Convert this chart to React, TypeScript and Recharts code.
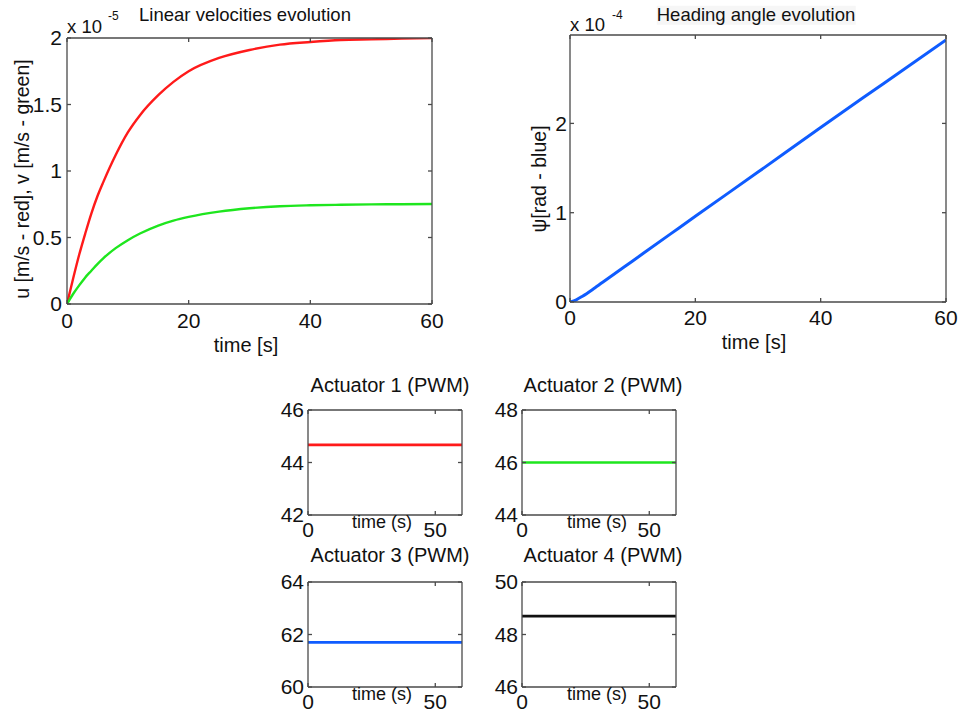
import React from 'react';
import { LineChart, Line, XAxis, YAxis } from 'recharts';

// ---- data ----
const timeUV = [0, 1, 2, 3, 4, 5, 6, 8, 10, 12, 15, 17.5, 20, 25, 30, 35, 40, 45, 50, 55, 60];
const uRed = [0, 0.19, 0.37, 0.53, 0.68, 0.81, 0.92, 1.12, 1.29, 1.42, 1.57, 1.67, 1.75, 1.85, 1.91, 1.95, 1.97, 1.985, 1.99, 1.995, 2.0];
const vGreen = [0, 0.075, 0.14, 0.2, 0.25, 0.3, 0.345, 0.42, 0.48, 0.53, 0.59, 0.627, 0.655, 0.695, 0.72, 0.735, 0.742, 0.746, 0.749, 0.75, 0.752];
const uvTicksY = [0, 0.5, 1, 1.5, 2];
const timeTicks = [0, 20, 40, 60];

const timePsi = [0, 1, 2, 4, 6, 10, 16, 20, 30, 40, 50, 60];
const psiBlue = [0, 0.025, 0.065, 0.16, 0.26, 0.46, 0.76, 0.96, 1.455, 1.955, 2.445, 2.935];
const psiTicksY = [0, 1, 2];

const actTime = [0, 60.5];
const act1 = [44.67, 44.67];
const act2 = [46.0, 46.0];
const act3 = [61.7, 61.7];
const act4 = [48.7, 48.7];
const actTicksX = [0, 50];
const act1Ticks = [42, 44, 46];
const act2Ticks = [44, 46, 48];
const act3Ticks = [60, 62, 64];
const act4Ticks = [46, 48, 50];

const FONT = '"Liberation Sans", Arial, Helvetica, sans-serif';
const BOX = '#4a4a4a';

type SeriesDef = { key: string; color: string; width: number; curve: 'monotone' | 'linear' };

type PanelProps = {
  left: number;
  top: number;
  width: number;
  height: number;
  yAxisWidth: number;
  marginTop: number;
  marginRight: number;
  data: any[];
  series: SeriesDef[];
  xDomain: [number, number];
  yDomain: [number, number];
  xTicks: number[];
  yTicks: number[];
  fontSize: number;
  xTickMargin: number;
  yTickMargin: number;
};

function Panel(p: PanelProps) {
  const tickStyle = { fill: '#111', fontSize: p.fontSize, fontFamily: FONT };
  return (
    <div style={{ position: 'absolute', left: p.left, top: p.top }}>
      <LineChart
        width={p.width}
        height={p.height}
        data={p.data}
        margin={{ top: p.marginTop - 1, right: p.marginRight - 1, bottom: 0, left: 0 }}
      >
        <XAxis
          dataKey="t"
          type="number"
          domain={p.xDomain}
          ticks={p.xTicks}
          interval={0}
          allowDataOverflow
          height={30}
          tickSize={-4}
          tickMargin={p.xTickMargin}
          stroke={BOX}
          strokeWidth={1.3}
          tick={tickStyle}
        />
        <XAxis
          xAxisId="top"
          dataKey="t"
          type="number"
          orientation="top"
          domain={p.xDomain}
          ticks={p.xTicks}
          interval={0}
          allowDataOverflow
          height={1}
          tickSize={-4}
          tickFormatter={() => ''}
          stroke={BOX}
          strokeWidth={1.3}
        />
        <YAxis
          type="number"
          domain={p.yDomain}
          ticks={p.yTicks}
          interval={0}
          allowDataOverflow
          width={p.yAxisWidth}
          tickSize={-4}
          tickMargin={p.yTickMargin}
          stroke={BOX}
          strokeWidth={1.3}
          tick={tickStyle}
        />
        <YAxis
          yAxisId="right"
          type="number"
          orientation="right"
          domain={p.yDomain}
          ticks={p.yTicks}
          interval={0}
          allowDataOverflow
          width={1}
          tickSize={-4}
          tickFormatter={() => ''}
          stroke={BOX}
          strokeWidth={1.3}
        />
        {p.series.map((s) => (
          <Line
            key={s.key}
            dataKey={s.key}
            type={s.curve}
            stroke={s.color}
            strokeWidth={s.width}
            dot={false}
            isAnimationActive={false}
          />
        ))}
      </LineChart>
    </div>
  );
}

function T(props: {
  x: number;
  y: number;
  size: number;
  text: string;
  rotate?: boolean;
  align?: 'left' | 'center';
  bg?: string;
}) {
  const { x, y, size, text, rotate, align = 'center', bg } = props;
  const tx = align === 'center' ? '-50%' : '0';
  return (
    <div
      style={{
        position: 'absolute',
        left: x,
        top: y,
        fontFamily: FONT,
        fontSize: size,
        lineHeight: 1,
        whiteSpace: 'nowrap',
        color: '#111',
        background: bg,
        transform: `translate(${tx}, -50%)${rotate ? ' rotate(-90deg)' : ''}`,
        transformOrigin: rotate ? '50% 50%' : undefined,
      }}
    >
      {text}
    </div>
  );
}

const uvData = timeUV.map((t, i) => ({ t, u: uRed[i], v: vGreen[i] }));
const psiData = timePsi.map((t, i) => ({ t, psi: psiBlue[i] }));
const mk = (vals: number[]) => actTime.map((t, i) => ({ t, a: vals[i] }));

export default function App() {
  const actCommon = {
    width: 216,
    height: 150,
    yAxisWidth: 48,
    marginTop: 15,
    marginRight: 14,
    xDomain: [0, 60.5] as [number, number],
    xTicks: actTicksX,
    fontSize: 21,
    xTickMargin: 11,
    yTickMargin: 8,
  };
  return (
    <div
      style={{
        position: 'absolute',
        left: 0,
        top: 0,
        width: 958,
        height: 715,
        background: '#fff',
        overflow: 'hidden',
      }}
    >
      {/* Top-left: linear velocities */}
      <Panel
        left={0}
        top={0}
        width={450}
        height={334}
        yAxisWidth={67}
        marginTop={38}
        marginRight={18}
        data={uvData}
        series={[
          { key: 'u', color: '#ff1a1a', width: 2.4, curve: 'monotone' },
          { key: 'v', color: '#1ee61e', width: 2.4, curve: 'monotone' },
        ]}
        xDomain={[0, 60]}
        yDomain={[0, 2]}
        xTicks={timeTicks}
        yTicks={uvTicksY}
        fontSize={21}
        xTickMargin={13}
        yTickMargin={9}
      />
      <T x={245} y={15} size={18.5} text="Linear velocities evolution" />
      <T x={67} y={27} size={18.5} text="x 10" align="left" />
      <T x={108} y={16} size={12} text="-5" align="left" />
      <T x={22.5} y={179} size={19.5} text="u [m/s - red], v [m/s - green]" rotate />
      <T x={246} y={345} size={20} text="time [s]" />

      {/* Top-right: heading angle */}
      <Panel
        left={480}
        top={0}
        width={478}
        height={332}
        yAxisWidth={90}
        marginTop={35}
        marginRight={12}
        data={psiData}
        series={[{ key: 'psi', color: '#0f5cff', width: 3, curve: 'monotone' }]}
        xDomain={[0, 60]}
        yDomain={[0, 2.99]}
        xTicks={timeTicks}
        yTicks={psiTicksY}
        fontSize={21}
        xTickMargin={12}
        yTickMargin={7}
      />
      <T x={756} y={15} size={18.5} text="Heading angle evolution" bg="#f6f6f6" />
      <T x={570} y={25} size={18.5} text="x 10" align="left" />
      <T x={612} y={15} size={12} text="-4" align="left" />
      <T x={540} y={179} size={19.5} text="ψ[rad - blue]" rotate />
      <T x={754} y={342} size={20} text="time [s]" />

      {/* Actuators */}
      <Panel
        {...actCommon}
        left={260}
        top={395}
        data={mk(act1)}
        series={[{ key: 'a', color: '#ff1a1a', width: 2.6, curve: 'linear' }]}
        yDomain={[42, 46]}
        yTicks={act1Ticks}
      />
      <T x={390} y={385} size={20} text="Actuator 1 (PWM)" />
      <T x={382} y={522} size={18} text="time (s)" />

      <Panel
        {...actCommon}
        left={474}
        top={395}
        data={mk(act2)}
        series={[{ key: 'a', color: '#1ee61e', width: 2.6, curve: 'linear' }]}
        yDomain={[44, 48]}
        yTicks={act2Ticks}
      />
      <T x={603} y={385} size={20} text="Actuator 2 (PWM)" />
      <T x={597} y={522} size={18} text="time (s)" />

      <Panel
        {...actCommon}
        left={260}
        top={567}
        data={mk(act3)}
        series={[{ key: 'a', color: '#0f5cff', width: 2.6, curve: 'linear' }]}
        yDomain={[60, 64]}
        yTicks={act3Ticks}
      />
      <T x={390} y={555} size={20} text="Actuator 3 (PWM)" />
      <T x={382} y={694} size={18} text="time (s)" />

      <Panel
        {...actCommon}
        left={474}
        top={567}
        data={mk(act4)}
        series={[{ key: 'a', color: '#111111', width: 2.6, curve: 'linear' }]}
        yDomain={[46, 50]}
        yTicks={act4Ticks}
      />
      <T x={603} y={555} size={20} text="Actuator 4 (PWM)" />
      <T x={597} y={694} size={18} text="time (s)" />
    </div>
  );
}
